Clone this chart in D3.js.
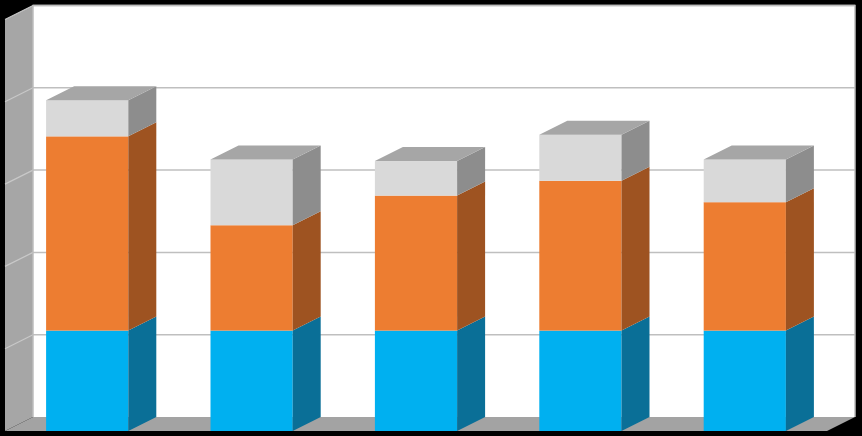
<!DOCTYPE html>
<html>
<head>
<meta charset="utf-8">
<script src="https://cdn.jsdelivr.net/npm/d3@7"></script>
<style>
html,body{margin:0;padding:0;background:#000;}
svg{display:block;}
</style>
</head>
<body>
<svg id="chart" width="862" height="436"></svg>
<script>
// ---- data ----
const categories = ["1", "2", "3", "4", "5"];
const seriesNames = ["Series 1", "Series 2", "Series 3"];
const series1 = [61, 61, 61, 61, 61];
const series2 = [118, 64, 82, 91, 78];
const series3 = [22, 40, 21, 28, 26];
const yTicks = [0, 50, 100, 150, 200, 250];

// ---- style / layout ----
const W = 862, H = 436;
const depthX = 28, depthY = 14;
const frontLeft = 5, frontRight = 827;
const frontBase = 431, frontTop = 19.5;
const frontColors = ["#00B0F0", "#ED7D31", "#D9D9D9"];
const sideColors = ["#0A6F97", "#9E5321", "#8D8D8D"];
const topColor = "#A6A6A6";

const svg = d3.select("#chart");
svg.append("rect").attr("width", W).attr("height", H).attr("fill", "#000");

const x = d3.scaleBand().domain(categories).range([frontLeft, frontRight])
  .paddingInner(0.5).paddingOuter(0.25);
const y = d3.scaleLinear().domain([0, 250]).range([frontBase, frontTop]);

const bx = v => v + depthX; // front -> back plane
const by = v => v - depthY;

const yMax = y(250), yMin = y(0);
// back wall
svg.append("rect")
  .attr("x", bx(frontLeft)).attr("y", by(yMax))
  .attr("width", frontRight - frontLeft).attr("height", yMin - yMax)
  .attr("fill", "#fff");
// left wall
svg.append("path")
  .attr("d", d3.line()([[frontLeft, yMax], [bx(frontLeft), by(yMax)], [bx(frontLeft), by(yMin)], [frontLeft, yMin]]) + "Z")
  .attr("fill", "#A6A6A6");
// floor
svg.append("path")
  .attr("d", d3.line()([[frontLeft, yMin], [bx(frontLeft), by(yMin)], [bx(frontRight), by(yMin)], [frontRight, yMin]]) + "Z")
  .attr("fill", "#A3A3A3");

// gridlines
const g = svg.append("g");
yTicks.forEach(t => {
  if (t === 0) return;
  const yy = y(t);
  g.append("line").attr("x1", bx(frontLeft)).attr("x2", bx(frontRight))
    .attr("y1", by(yy)).attr("y2", by(yy))
    .attr("stroke", "#BFBFBF").attr("stroke-width", 1.5);
  g.append("line").attr("x1", frontLeft).attr("x2", bx(frontLeft))
    .attr("y1", yy).attr("y2", by(yy))
    .attr("stroke", "#C9C9C9").attr("stroke-width", 1.2);
});
// wall edges
svg.append("path")
  .attr("d", d3.line()([[bx(frontLeft), by(yMin)], [bx(frontLeft), by(yMax)], [bx(frontRight), by(yMax)], [bx(frontRight), by(yMin)]]))
  .attr("fill", "none").attr("stroke", "#BDBDBD").attr("stroke-width", 1.5);

// stacked data
const rows = categories.map((c, i) => ({cat: c, s0: series1[i], s1: series2[i], s2: series3[i]}));
const stack = d3.stack().keys(["s0", "s1", "s2"])(rows);

const bars = svg.append("g");
categories.forEach((c, i) => {
  const x0 = x(c), x1 = x(c) + x.bandwidth();
  stack.forEach((layer, k) => {
    const d = layer[i];
    const yb = y(d[0]), yt = y(d[1]);
    // front face
    bars.append("rect").attr("x", x0).attr("y", yt)
      .attr("width", x1 - x0).attr("height", yb - yt)
      .attr("fill", frontColors[k]);
    // side face
    bars.append("path")
      .attr("d", d3.line()([[x1, yt], [bx(x1), by(yt)], [bx(x1), by(yb)], [x1, yb]]) + "Z")
      .attr("fill", sideColors[k]);
  });
  const top = stack[stack.length - 1][i][1];
  const yt = y(top);
  bars.append("path")
    .attr("d", d3.line()([[x0, yt], [bx(x0), by(yt)], [bx(x1), by(yt)], [x1, yt]]) + "Z")
    .attr("fill", topColor);
});
</script>
</body>
</html>
